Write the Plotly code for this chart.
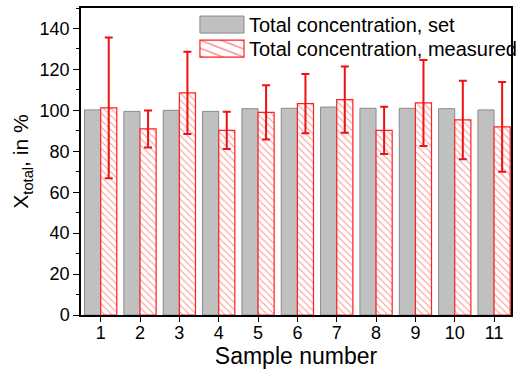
import plotly.graph_objects as go

samples = [1, 2, 3, 4, 5, 6, 7, 8, 9, 10, 11]
set_values = [100.2, 99.5, 100.0, 99.5, 100.8, 101.0, 101.6, 101.0, 101.0, 100.8, 100.2]
measured_values = [101.2, 90.9, 108.5, 90.2, 99.0, 103.3, 105.2, 90.2, 103.6, 95.3, 91.9]
measured_errors = [34.4, 9.0, 20.1, 9.1, 13.3, 14.5, 16.2, 11.5, 21.0, 19.2, 21.9]
y_ticks = [0, 20, 40, 60, 80, 100, 120, 140]

font_family = "Arial, Liberation Sans, sans-serif"

fig = go.Figure()
fig.add_trace(go.Bar(
    x=samples, y=set_values, name="Total concentration, set",
    marker=dict(color="#c0c0c0", line=dict(color="#8a8a8a", width=1)),
))
fig.add_trace(go.Bar(
    x=samples, y=measured_values, name="Total concentration, measured",
    marker=dict(color="white", line=dict(color="#ff2020", width=1.2),
                pattern=dict(shape="\\", fgcolor="#ff2020", bgcolor="white",
                             size=5, solidity=0.2)),
    error_y=dict(type="data", array=measured_errors, color="#ee1111",
                 thickness=2, width=4),
))

fig.update_layout(
    width=522, height=371,
    margin=dict(l=81, r=0, t=8, b=56),
    paper_bgcolor="white", plot_bgcolor="white",
    barmode="group", bargap=0.18, bargroupgap=0,
    font=dict(family=font_family, color="black"),
    showlegend=True,
    legend=dict(x=0.265, y=1.0095, xanchor="left", yanchor="top",
                bgcolor="rgba(0,0,0,0)", font=dict(size=20),
                tracegroupgap=0, itemwidth=44),
)
fig.update_xaxes(
    range=[0.5, 11.43], tickmode="array", tickvals=samples,
    ticks="outside", ticklen=5, tickcolor="black",
    ticklabelstandoff=-4,
    showline=True, linecolor="black", linewidth=1.5, mirror=True,
    showgrid=False, zeroline=False,
    tickfont=dict(size=18),
    title=dict(text="Sample number", font=dict(size=23), standoff=5),
)
fig.update_yaxes(
    range=[0, 150], tickmode="array", tickvals=y_ticks,
    ticks="outside", ticklen=6, tickcolor="black",
    minor=dict(tickvals=[10, 30, 50, 70, 90, 110, 130, 150], ticks="outside", ticklen=3, tickcolor="black"),
    showline=True, linecolor="black", linewidth=1.5, mirror=True,
    showgrid=False, zeroline=False,
    tickfont=dict(size=18),
    title=dict(text="X<sub>total</sub>, in %", font=dict(size=21), standoff=5),
)

post_script = """
document.body.style.margin = '0';
document.querySelectorAll('.legend .legendpoints path').forEach(function(p){
  var t = p.getAttribute('transform') || '';
  p.setAttribute('transform', t + ' scale(3.67,1.42)');
  p.style.vectorEffect = 'non-scaling-stroke';
});
var tr = document.querySelectorAll('.legend .traces');
if (tr.length > 1) {
  var re = /translate\\(([-\\d.]+)[ ,]+([-\\d.]+)\\)/;
  var m0 = re.exec(tr[0].getAttribute('transform'));
  var m1 = re.exec(tr[1].getAttribute('transform'));
  if (m0 && m1) {
    tr[1].setAttribute('transform', 'translate(' + m1[1] + ',' + (parseFloat(m0[2]) + 24) + ')');
  }
}
"""

fig.write_html("out.html", post_script=post_script, config={"displayModeBar": False})
